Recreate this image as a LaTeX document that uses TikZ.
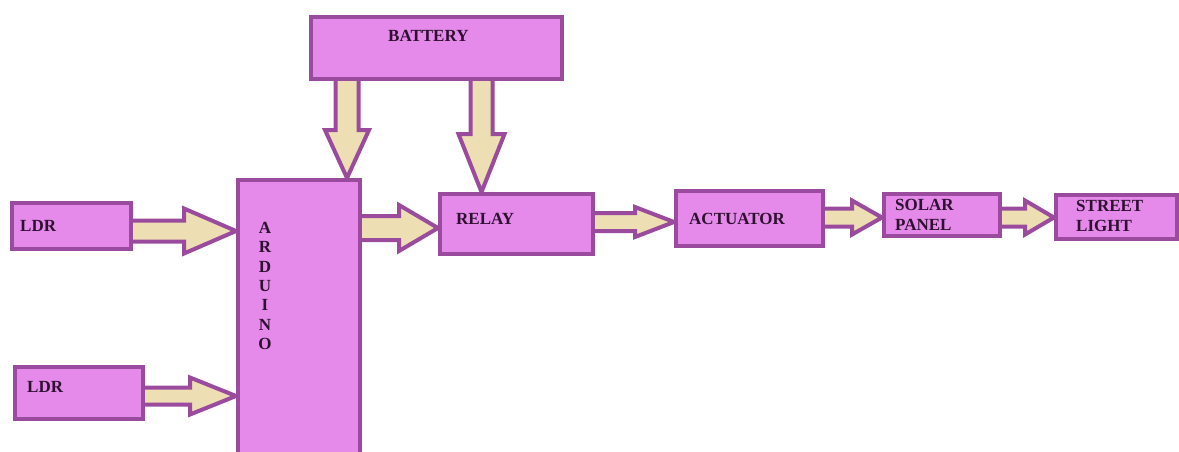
\documentclass[tikz,border=0pt]{standalone}
\usepackage{fontspec}
\setmainfont{Liberation Serif}
\usetikzlibrary{calc,backgrounds}
\definecolor{boxfill}{HTML}{E58AEB}
\definecolor{boxline}{HTML}{9A4B9E}
\definecolor{arrfill}{HTML}{EEDEB3}
\definecolor{txtcol}{HTML}{2E1030}
\tikzset{
  box/.style={draw=boxline, fill=boxfill, line width=4pt, inner sep=0pt},
  barrow/.style={draw=boxline, fill=arrfill, line width=4pt},
  txt/.style={text=txtcol, font=\fontsize{17}{20}\selectfont\bfseries, inner sep=0pt, align=left}
}
% horizontal block arrow: src, dst, y centre, shaft half width, head half width, head length
\newcommand\harr[6]{%
  \draw[barrow] let \p1=(#1.east), \p2=(#2.west), \p3=(0,#3) in
   (\x1-3pt,\y3+#4pt) -- (\x2-#6pt,\y3+#4pt) -- (\x2-#6pt,\y3+#5pt) -- (\x2,\y3)
   -- (\x2-#6pt,\y3-#5pt) -- (\x2-#6pt,\y3-#4pt) -- (\x1-3pt,\y3-#4pt) -- cycle;}
% vertical block arrow (downwards): src, dst, x centre, shaft half, head half, head length
\newcommand\varr[6]{%
  \draw[barrow] let \p1=(#1.south), \p2=(#2.north), \p3=(#3,0) in
   (\x3-#4pt,\y1+3pt) -- (\x3-#4pt,\y2+#6pt) -- (\x3-#5pt,\y2+#6pt) -- (\x3,\y2)
   -- (\x3+#5pt,\y2+#6pt) -- (\x3+#4pt,\y2+#6pt) -- (\x3+#4pt,\y1+3pt) -- cycle;}
\begin{document}
\begin{tikzpicture}[x=1pt,y=-1pt]
\useasboundingbox (0,0) rectangle (1179,451);
% boxes
\node[box, minimum width=251, minimum height=62] (bat) at (436.5,48) {};
\node[box, minimum width=122, minimum height=280] (ard) at (299,320) {};
\node[box, minimum width=119, minimum height=46] (ldr1) at (71.5,226) {};
\node[box, minimum width=128, minimum height=52] (ldr2) at (79,393) {};
\node[box, minimum width=153, minimum height=60] (relay) at (516.5,224) {};
\node[box, minimum width=147, minimum height=55] (act) at (749.5,218.5) {};
\node[box, minimum width=116, minimum height=42] (sol) at (942,215) {};
\node[box, minimum width=121, minimum height=44] (st) at (1116.5,217) {};
% arrows
\begin{pgfonlayer}{background}
\harr{ldr1}{ard}{231}{10.5}{22.5}{52}
\harr{ldr2}{ard}{396}{8.5}{18.5}{46}
\harr{ard}{relay}{228}{12}{23}{39}
\harr{relay}{act}{222}{9}{15}{39}
\harr{act}{sol}{217.5}{9}{17}{30}
\harr{sol}{st}{217.5}{9}{17}{29}
\varr{bat}{ard}{347}{11.5}{22}{48}
\varr{bat}{relay}{481.5}{11}{23}{58}
\end{pgfonlayer}
% texts
\node[txt, anchor=west] (tbat) at (388,36) {BATTERY};
\node[txt, anchor=west] (tldr1) at (20,226) {LDR};
\node[txt, anchor=west] (tldr2) at (27,387) {LDR};
\node[txt, align=center, font=\fontsize{17}{19.3}\selectfont\bfseries] (tard) at (265,286) {A\\R\\D\\U\\I\\N\\O};
\node[txt, anchor=west] (trelay) at (456,219) {RELAY};
\node[txt, anchor=west] (tact) at (689,219) {ACTUATOR};
\node[txt, anchor=west] (tsol) at (895,215) {SOLAR\\PANEL};
\node[txt, anchor=west] (tst) at (1076,216) {STREET\\LIGHT};
\end{tikzpicture}
\end{document}
